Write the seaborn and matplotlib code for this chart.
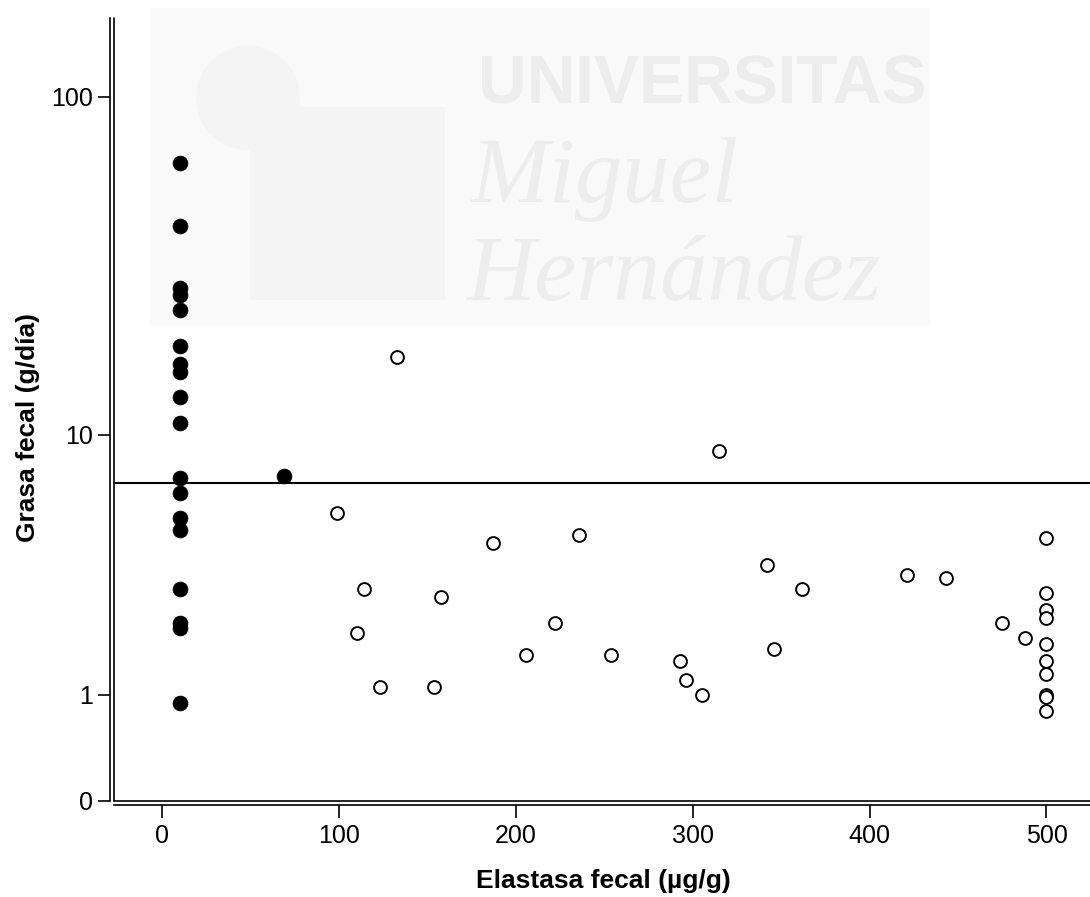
import numpy as np
import pandas as pd
import matplotlib
matplotlib.use("Agg")
import matplotlib.pyplot as plt
import seaborn as sns
from matplotlib.lines import Line2D
from matplotlib.patches import Rectangle, Ellipse

# Pacientes con elastasa baja (puntos rellenos)
elastasa_baja = [10, 10, 10, 10, 10, 10, 10, 10, 10, 10, 10, 10, 10, 10, 10, 10, 10, 10, 69]
grasa_baja = [64.3, 42.2, 27.9, 26.5, 23.9, 18.7, 16.5, 15.6, 13.1, 10.9,
              7.3, 6.5, 5.4, 4.9, 3.0, 2.2, 2.1, 0.9, 7.4]

# Pacientes con elastasa normal (puntos huecos)
elastasa_normal = [133, 99, 187, 236, 114, 158, 110, 222, 206, 254, 123, 154,
                   315, 342, 362, 293, 346, 296, 305, 421, 443, 475, 488,
                   500, 500, 500, 500, 500, 500, 500, 500, 500, 500]
grasa_normal = [17.4, 5.6, 4.4, 4.7, 3.0, 2.8, 2.0, 2.2, 1.6, 1.6, 1.1, 1.1,
                8.9, 3.7, 3.0, 1.5, 1.7, 1.2, 1.0, 3.4, 3.3, 2.2, 1.9,
                4.6, 2.9, 2.5, 2.3, 1.8, 1.5, 1.3, 1.0, 0.97, 0.8]

umbral_grasa = 7.0

x_ticks = [0, 100, 200, 300, 400, 500]
y_ticks = [0, 1, 10, 100]
y_tick_labels = ["0", "1", "10", "100"]

df_baja = pd.DataFrame({"elastasa": elastasa_baja, "grasa": grasa_baja})
df_normal = pd.DataFrame({"elastasa": elastasa_normal, "grasa": grasa_normal})

sns.set_theme(style="white")
plt.rcParams["font.family"] = ["Liberation Sans", "DejaVu Sans"]
plt.rcParams["text.color"] = "black"
plt.rcParams["axes.labelcolor"] = "black"

W, H = 1090, 897
fig = plt.figure(figsize=(W / 100, H / 100), dpi=100)
fig.patch.set_facecolor("white")

ax = fig.add_axes([114 / W, 1 - 800.5 / H, (W - 114) / W, (800.5 - 18) / H])
ax.patch.set_alpha(0)

def fx(px):
    return px / W

def fy(py):
    return 1 - py / H

# Marca de agua institucional (detrás de los datos)
ft = fig.transFigure
ax.add_patch(Rectangle((fx(150), fy(326)), (930 - 150) / W, (326 - 8) / H, transform=ft,
                       facecolor="#f9f9f9", edgecolor="none", zorder=0.2, clip_on=False))
ax.add_patch(Ellipse((fx(248), fy(98)), 104 / W, 104 / H, transform=ft,
                     facecolor="#f4f4f4", edgecolor="none", zorder=0.25, clip_on=False))
ax.add_patch(Rectangle((fx(250), fy(300)), (445 - 250) / W, (300 - 107) / H, transform=ft,
                       facecolor="#f4f4f4", edgecolor="none", zorder=0.3, clip_on=False))
wm_color = "#ededed"
t_univ = ax.text(fx(478), fy(103), "UNIVERSITAS", transform=ft, color=wm_color,
                 fontsize=61, fontweight="bold",
                 family=["Liberation Sans Narrow", "Liberation Sans"],
                 ha="left", va="baseline", zorder=0.5, clip_on=False)
ax.text(fx(470), fy(202), "Miguel", transform=ft, color=wm_color, fontsize=68,
        family="Liberation Serif", style="italic", ha="left", va="baseline",
        zorder=0.5, clip_on=False)
ax.text(fx(466), fy(300), "Hernández", transform=ft, color=wm_color, fontsize=68,
        family="Liberation Serif", style="italic", ha="left", va="baseline",
        zorder=0.5, clip_on=False)

fig.canvas.draw()
w_univ = t_univ.get_window_extent().width
t_univ.set_fontsize(61 * min(1.0, 449 / w_univ))

def fwd(y):
    y = np.asarray(y, dtype=float)
    return np.log10(np.clip(y, -0.999, None) + 1)

def inv(v):
    return 10 ** np.asarray(v, dtype=float) - 1

ax.set_yscale("function", functions=(fwd, inv))

sns.scatterplot(data=df_baja, x="elastasa", y="grasa", ax=ax, s=115,
                color="black", edgecolor="black", linewidth=0.5, zorder=3)
sns.scatterplot(data=df_normal, x="elastasa", y="grasa", ax=ax, s=85,
                facecolor="white", edgecolor="black", linewidth=1.4, zorder=3)

ax.axhline(umbral_grasa, color="black", lw=1.5, zorder=2)

ax.set_xlim(-27.1, 524.6)
ax.set_ylim(0, 168.5)
ax.set_xticks(x_ticks)
ax.set_xticklabels([str(t) for t in x_ticks])
ax.set_yticks(y_ticks)
ax.set_yticklabels(y_tick_labels)
ax.minorticks_off()

for side in ("top", "right"):
    ax.spines[side].set_visible(False)
for side in ("left", "bottom"):
    ax.spines[side].set_visible(True)
    ax.spines[side].set_color("black")
    ax.spines[side].set_linewidth(1.2)
    ax.spines[side].set_position(("outward", 3))

# Segunda línea del marco doble
ax.add_line(Line2D([0, 0], [0, 1], transform=ax.transAxes, color="black",
                   lw=1.2, clip_on=False, zorder=4))
ax.add_line(Line2D([0, 1], [0, 0], transform=ax.transAxes, color="black",
                   lw=1.2, clip_on=False, zorder=4))

ax.tick_params(axis="both", which="major", direction="out", length=9, width=1.2,
               color="black", labelsize=18, labelcolor="black", bottom=True, left=True)
ax.tick_params(axis="x", pad=5)
ax.tick_params(axis="y", pad=3)

ax.set_xlabel("Elastasa fecal (µg/g)", fontsize=19, fontweight="bold", color="black")
ax.set_ylabel("Grasa fecal (g/día)", fontsize=19, fontweight="bold", color="black")
ax.xaxis.set_label_coords(0.5015, -0.088)
ax.yaxis.set_label_coords(-0.076, 0.477)
ax.grid(False)

fig.savefig("out.png", dpi=100)
